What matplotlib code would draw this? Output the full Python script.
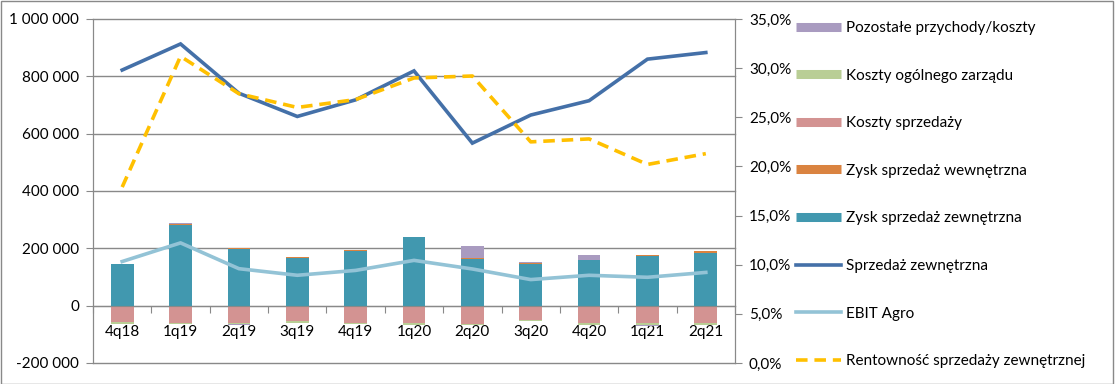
import numpy as np
import matplotlib
matplotlib.use('Agg')
import matplotlib.pyplot as plt
from matplotlib.lines import Line2D
from matplotlib.patches import Rectangle
from matplotlib.ticker import FuncFormatter, FixedLocator

plt.rcParams['font.family'] = ['Lato', 'DejaVu Sans']

# Data
kwartaly = ['4q18', '1q19', '2q19', '3q19', '4q19', '1q20', '2q20', '3q20', '4q20', '1q21', '2q21']
zysk_zew = [146000, 283000, 197000, 167000, 191000, 238000, 164000, 147000, 160000, 175000, 185000]
zysk_wew = [1000, 3000, 3000, 3000, 4000, 3000, 1000, 3000, 1000, 2000, 5000]
koszty_sprz = [-58000, -60000, -60000, -55000, -59000, -62000, -64000, -50000, -62000, -62000, -62000]
koszty_zarz = [-5000, -5000, -5000, -5000, -4000, -4000, -3000, -5000, -4000, -5000, -5000]
pozostale = [0, 2000, -2000, 0, 0, 0, 42000, 3000, 17000, -4000, 0]
sprzedaz_zew = [822000, 913000, 741000, 660000, 718000, 819000, 567000, 665000, 715000, 860000, 883000]
ebit_agro = [154000, 219000, 129000, 106000, 123000, 158000, 128000, 91000, 106000, 99000, 116000]
rentownosc = [17.9, 31.2, 27.4, 26.0, 26.8, 29.0, 29.2, 22.5, 22.8, 20.2, 21.3]

c_poz = '#A99BC0'
c_zarz = '#B9CE95'
c_sprz = '#D39392'
c_wew = '#DA8340'
c_zew = '#4198AF'
c_sales = '#4470A8'
c_ebit = '#93C3D6'
c_rent = '#FFC000'
c_grid = '#898989'

x = np.arange(len(kwartaly))
w = 0.39

fig = plt.figure(figsize=(11.15, 3.84), dpi=100)
ax = fig.add_axes([93 / 1115, 21 / 384, (735 - 93) / 1115, (365 - 21) / 384])
ax2 = ax.twinx()

# stacked bars
zew = np.array(zysk_zew)
wew = np.array(zysk_wew)
sprz = np.array(koszty_sprz)
zarz = np.array(koszty_zarz)
poz = np.array(pozostale)

ax.bar(x, zew, w, color=c_zew, zorder=2)
ax.bar(x, wew, w, bottom=zew, color=c_wew, zorder=2)
ax.bar(x, sprz, w, color=c_sprz, zorder=2)
ax.bar(x, zarz, w, bottom=sprz, color=c_zarz, zorder=2)
poz_bottom = np.where(poz >= 0, zew + wew, sprz + zarz)
ax.bar(x, poz, w, bottom=poz_bottom, color=c_poz, zorder=2)

# lines
ax.plot(x, sprzedaz_zew, color=c_sales, lw=2.6, zorder=4, solid_joinstyle='miter')
ax.plot(x, ebit_agro, color=c_ebit, lw=2.6, zorder=4)
ax2.plot(x, rentownosc, color=c_rent, lw=2.6, dashes=(3.2, 1.9), zorder=4)

# axes
ax.set_xlim(-0.5, len(kwartaly) - 0.5)
ax.set_ylim(-200000, 1000000)
ax2.set_ylim(0, 35)

for v in range(-200000, 1000001, 200000):
    ax.axhline(v, color=c_grid, lw=1, zorder=1, clip_on=False)

ax.set_yticks(range(-200000, 1000001, 200000))
ax.yaxis.set_major_formatter(FuncFormatter(lambda v, p: f'{int(v):,}'.replace(',', ' ')))
ax2.set_yticks(np.arange(0, 35.1, 5))
ax2.yaxis.set_major_formatter(FuncFormatter(lambda v, p: f'{v:.1f}%'.replace('.', ',')))

ax.spines['bottom'].set_position(('data', 0))
ax.xaxis.set_major_locator(FixedLocator(np.arange(-0.5, len(kwartaly), 1)))
ax.xaxis.set_minor_locator(FixedLocator(x))
ax.set_xticklabels([])
ax.set_xticklabels(kwartaly, minor=True)
ax.tick_params(axis='x', which='major', length=5, color=c_grid, direction='out')
ax.tick_params(axis='x', which='minor', length=0, pad=14, labelsize=11, labelcolor='#000000')
for lab in ax.get_xticklabels(minor=True):
    lab.set_zorder(6)

ax.tick_params(axis='y', length=5, color=c_grid, labelsize=11, pad=5)
ax2.tick_params(axis='y', length=5, color=c_grid, labelsize=11, pad=5)

for a in (ax, ax2):
    a.spines['top'].set_visible(False)
    a.spines['left'].set_color(c_grid)
    a.spines['right'].set_color(c_grid)
ax.spines['bottom'].set_color(c_grid)
ax2.spines['bottom'].set_visible(False)
ax.set_zorder(ax2.get_zorder() - 1)
ax.patch.set_visible(False)
ax2.patch.set_visible(False)

# legend
handles = [
    Line2D([], [], color=c_poz, lw=6.5, solid_capstyle='butt'),
    Line2D([], [], color=c_zarz, lw=6.5, solid_capstyle='butt'),
    Line2D([], [], color=c_sprz, lw=6.5, solid_capstyle='butt'),
    Line2D([], [], color=c_wew, lw=6.5, solid_capstyle='butt'),
    Line2D([], [], color=c_zew, lw=6.5, solid_capstyle='butt'),
    Line2D([], [], color=c_sales, lw=2.6),
    Line2D([], [], color=c_ebit, lw=2.6),
    Line2D([], [], color=c_rent, lw=2.6, dashes=(3.2, 1.9)),
]
labels = ['Pozostałe przychody/koszty', 'Koszty ogólnego zarządu', 'Koszty sprzedaży',
          'Zysk sprzedaż wewnętrzna', 'Zysk sprzedaż zewnętrzna', 'Sprzedaż zewnętrzna',
          'EBIT Agro', 'Rentowność sprzedaży zewnętrznej']
fig.legend(handles, labels, loc='upper left', bbox_to_anchor=(796 / 1115, 1 - 21 / 384),
           frameon=False, fontsize=11, handlelength=2.95, handletextpad=0.3,
           labelspacing=2.2, borderpad=0, borderaxespad=0)

# outer border
fig.patches.append(Rectangle((0.0005, 0.001), 0.998, 0.997, transform=fig.transFigure,
                             fill=False, edgecolor=c_grid, lw=1))

fig.savefig('out.png', dpi=100)
